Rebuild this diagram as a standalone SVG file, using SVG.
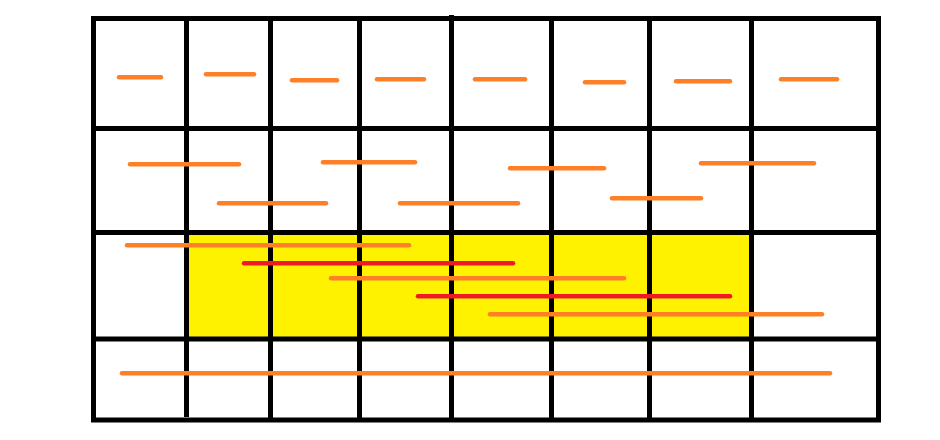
<svg xmlns="http://www.w3.org/2000/svg" width="940" height="440" viewBox="0 0 940 440">
<style>
.grid{stroke:#000;stroke-width:5;fill:none}
.o{stroke:#FF7F27;stroke-width:4.5;stroke-linecap:round}
.r{stroke:#ED1C24;stroke-width:4.5;stroke-linecap:round}
</style>
<rect width="940" height="440" fill="#fff"/>
<rect x="186.5" y="232.5" width="565" height="106.5" fill="#FFF200"/>
<g id="grid" class="grid">
<rect x="93.5" y="18.5" width="785" height="401.5"/>
<line x1="93.5" y1="128.5" x2="878.5" y2="128.5"/>
<line x1="93.5" y1="232.5" x2="878.5" y2="232.5"/>
<line x1="93.5" y1="339" x2="878.5" y2="339"/>
<line x1="186.5" y1="18.5" x2="186.5" y2="417"/>
<line x1="270.5" y1="18.5" x2="270.5" y2="420"/>
<line x1="359.5" y1="18.5" x2="359.5" y2="420"/>
<line x1="451.5" y1="15" x2="451.5" y2="420"/>
<line x1="551.5" y1="18.5" x2="551.5" y2="420"/>
<line x1="649.5" y1="18.5" x2="649.5" y2="420"/>
<line x1="751.5" y1="18.5" x2="751.5" y2="420"/>
</g>
<g id="row1">
<line class="o" x1="119" y1="77.3" x2="161" y2="77.3"/>
<line class="o" x1="206" y1="74.3" x2="254" y2="74.3"/>
<line class="o" x1="292" y1="80.3" x2="337" y2="80.3"/>
<line class="o" x1="377" y1="79.3" x2="424" y2="79.3"/>
<line class="o" x1="475" y1="79.3" x2="525" y2="79.3"/>
<line class="o" x1="585" y1="82.3" x2="624" y2="82.3"/>
<line class="o" x1="676" y1="81.3" x2="730" y2="81.3"/>
<line class="o" x1="781" y1="79.3" x2="837" y2="79.3"/>
</g>
<g id="row2">
<line class="o" x1="130" y1="164.3" x2="239" y2="164.3"/>
<line class="o" x1="219" y1="203.3" x2="326" y2="203.3"/>
<line class="o" x1="323" y1="162.3" x2="415" y2="162.3"/>
<line class="o" x1="400" y1="203.3" x2="518" y2="203.3"/>
<line class="o" x1="510" y1="168.3" x2="604" y2="168.3"/>
<line class="o" x1="612" y1="198.3" x2="701" y2="198.3"/>
<line class="o" x1="701" y1="163.3" x2="814" y2="163.3"/>
</g>
<g id="row3">
<line class="o" x1="127" y1="245.3" x2="409" y2="245.3"/>
<line class="r" x1="244" y1="263.3" x2="513" y2="263.3"/>
<line class="o" x1="331" y1="278.3" x2="624" y2="278.3"/>
<line class="r" x1="418" y1="296.3" x2="730" y2="296.3"/>
<line class="o" x1="490" y1="314.3" x2="822" y2="314.3"/>
</g>
<g id="row4">
<line class="o" x1="122" y1="373.3" x2="830" y2="373.3"/>
</g>
</svg>
